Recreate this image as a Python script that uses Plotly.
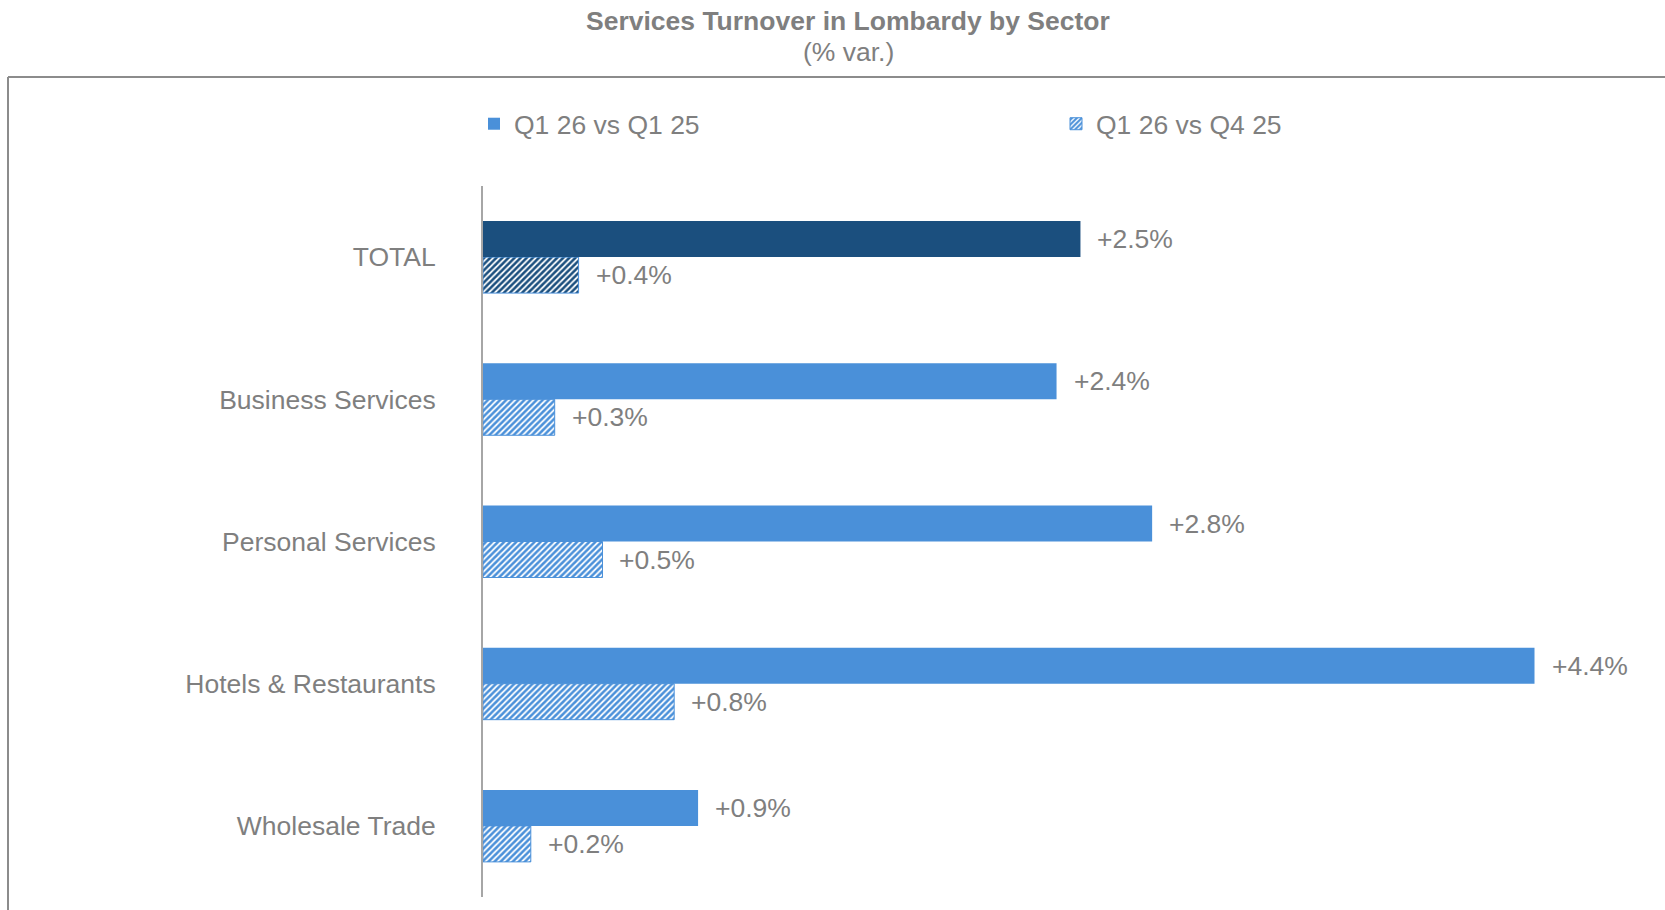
import plotly.graph_objects as go

# Sectors listed bottom-to-top so TOTAL sits at the top of the axis
sectors = ["Wholesale Trade", "Hotels & Restaurants", "Personal Services",
           "Business Services", "TOTAL"]
yoy_var = [0.9, 4.4, 2.8, 2.4, 2.5]   # Q1 26 vs Q1 25
qoq_var = [0.2, 0.8, 0.5, 0.3, 0.4]   # Q1 26 vs Q4 25
series_names = ["Q1 26 vs Q1 25", "Q1 26 vs Q4 25"]

BLUE = "#4A90D9"
NAVY = "#1B4F7E"
GREY = "#7F7F7F"
FONT = "Liberation Sans, Arial, sans-serif"
FS = 26.5

W, H = 1665, 910
ML, MR, MT, MB = 483, 11, 186, 13


def px_x(px):
    return (px - ML) / (W - ML - MR)


def px_y(py):
    return (H - MB - py) / (H - MT - MB)


bar_colors = [NAVY if s == "TOTAL" else BLUE for s in sectors]

fig = go.Figure()

# Hatched quarter-on-quarter bars (lower bar in each group)
fig.add_trace(go.Bar(
    y=sectors, x=qoq_var, orientation="h", name=series_names[1],
    legend="legend2",
    marker=dict(
        color=bar_colors,
        line=dict(color=BLUE, width=1),
        pattern=dict(shape="/", fillmode="replace", bgcolor="white",
                     fgcolor=bar_colors, size=4.3, solidity=0.6),
    ),
    hoverinfo="skip",
))

# Solid year-on-year bars (upper bar in each group)
fig.add_trace(go.Bar(
    y=sectors, x=yoy_var, orientation="h", name=series_names[0],
    legend="legend",
    marker=dict(color=bar_colors, line=dict(width=0)),
    hoverinfo="skip",
))

annotations = []
for s, v1, v2 in zip(sectors, yoy_var, qoq_var):
    for v, dy in ((v1, 18), (v2, -18)):
        annotations.append(dict(
            x=v, y=s, xref="x", yref="y", text=f"+{v:.1f}%",
            showarrow=False, xanchor="left", yanchor="middle",
            xshift=15, yshift=dy,
            font=dict(family=FONT, size=FS, color=GREY),
        ))

# Two-line chart title
annotations.append(dict(
    x=px_x(848), y=px_y(21), xref="paper", yref="paper",
    text="<b>Services Turnover in Lombardy by Sector</b>",
    showarrow=False, xanchor="center", yanchor="middle",
    font=dict(family=FONT, size=FS, color=GREY),
))
annotations.append(dict(
    x=px_x(848), y=px_y(52), xref="paper", yref="paper",
    text="(% var.)", showarrow=False, xanchor="center", yanchor="middle",
    font=dict(family=FONT, size=FS, color=GREY),
))

# Outer frame: left and top edges of the chart box
shapes = [
    dict(type="line", xref="paper", yref="paper",
         x0=px_x(8), x1=px_x(8), y0=px_y(77), y1=px_y(H + 20),
         line=dict(color="#8C8C8C", width=2)),
    dict(type="line", xref="paper", yref="paper",
         x0=px_x(8), x1=px_x(W + 20), y0=px_y(77), y1=px_y(77),
         line=dict(color="#8C8C8C", width=2)),
]

legend_common = dict(
    orientation="h", xref="paper", yref="paper",
    xanchor="left", yanchor="middle",
    font=dict(family=FONT, size=FS, color=GREY),
    bgcolor="rgba(0,0,0,0)", borderwidth=0,
)

fig.update_layout(
    width=W, height=H,
    margin=dict(l=ML, r=MR, t=MT, b=MB, pad=0),
    paper_bgcolor="white", plot_bgcolor="white",
    barmode="group", bargap=0.494, bargroupgap=0,
    showlegend=True,
    legend=dict(x=px_x(474), y=px_y(124), **legend_common),
    legend2=dict(x=px_x(1056), y=px_y(124), **legend_common),
    xaxis=dict(range=[0, 4.9], visible=False, fixedrange=True),
    yaxis=dict(
        categoryorder="array", categoryarray=sectors,
        showline=True, linecolor="#A6A6A6", linewidth=2,
        showgrid=False, zeroline=False, ticks="",
        ticklabelstandoff=40,
        tickfont=dict(family=FONT, size=FS, color=GREY),
        fixedrange=True,
    ),
    annotations=annotations,
    shapes=shapes,
    font=dict(family=FONT, color=GREY),
)

fig.write_html("out.html")
